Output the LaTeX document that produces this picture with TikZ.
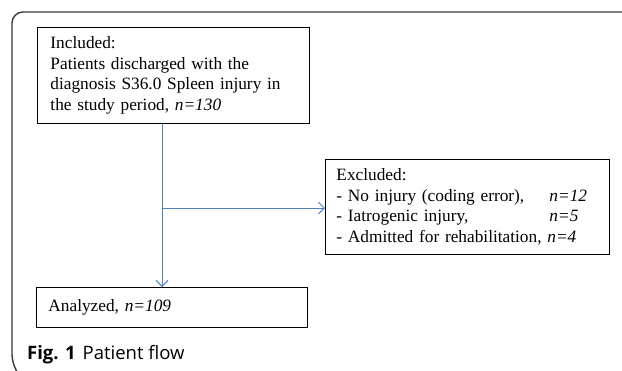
\documentclass[tikz,border=0pt]{standalone}
\usepackage{fontspec}
\setmainfont{Liberation Serif}
\newfontfamily\capfont{Open Sans}
\usetikzlibrary{arrows.meta}
\definecolor{flowblue}{RGB}{79,129,189}
\definecolor{framegray}{RGB}{55,55,55}
\tikzset{
  flowbox/.style={draw=black, line width=0.9pt, anchor=north west, align=left,
    font=\fontsize{17.3}{20.5}\selectfont, inner ysep=0pt},
  flowline/.style={draw=flowblue, line width=1pt},
  flowarrow/.style={flowline, -{Straight Barb[length=6pt,width=12pt]}},
}
\begin{document}
\begin{tikzpicture}[x=1pt,y=-1pt]
\useasboundingbox (0,0) rectangle (622,370);
% outer frame
\draw[framegray, line width=1.4pt, rounded corners=11pt]
  (16,371) -- (12,366) -- (12,12) -- (623,12);
% boxes
\node[flowbox, text width=246pt, inner xsep=13pt, minimum height=96pt] (inc) at (37,27)
  {Included:\\Patients discharged with the\\diagnosis S36.0 Spleen injury in\\the study period, \textit{n=130}};
\node[flowbox, text width=262pt, inner xsep=11pt, minimum height=95pt] (exc) at (325,159)
  {Excluded:\\\makebox[213pt][l]{- No injury (coding error),}\textit{n=12}\\\makebox[213pt][l]{- Iatrogenic injury,}\textit{n=5}\\- Admitted for rehabilitation, \textit{n=4}};
\node[flowbox, text width=247pt, inner xsep=12pt, minimum height=40pt] (ana) at (36,287)
  {Analyzed, \textit{n=109}};
\node[anchor=base west, inner sep=0pt, font=\capfont\fontsize{18.5}{20}\selectfont] (cap) at (27,359.5)
  {\textbf{Fig. 1}\hspace{7pt}Patient flow};
% connectors
\coordinate (j) at (162,208);
\draw[flowarrow] (inc.south -| j) -- (ana.north -| j);
\draw[flowarrow] (j) -- (exc.west |- j);
\end{tikzpicture}
\end{document}
